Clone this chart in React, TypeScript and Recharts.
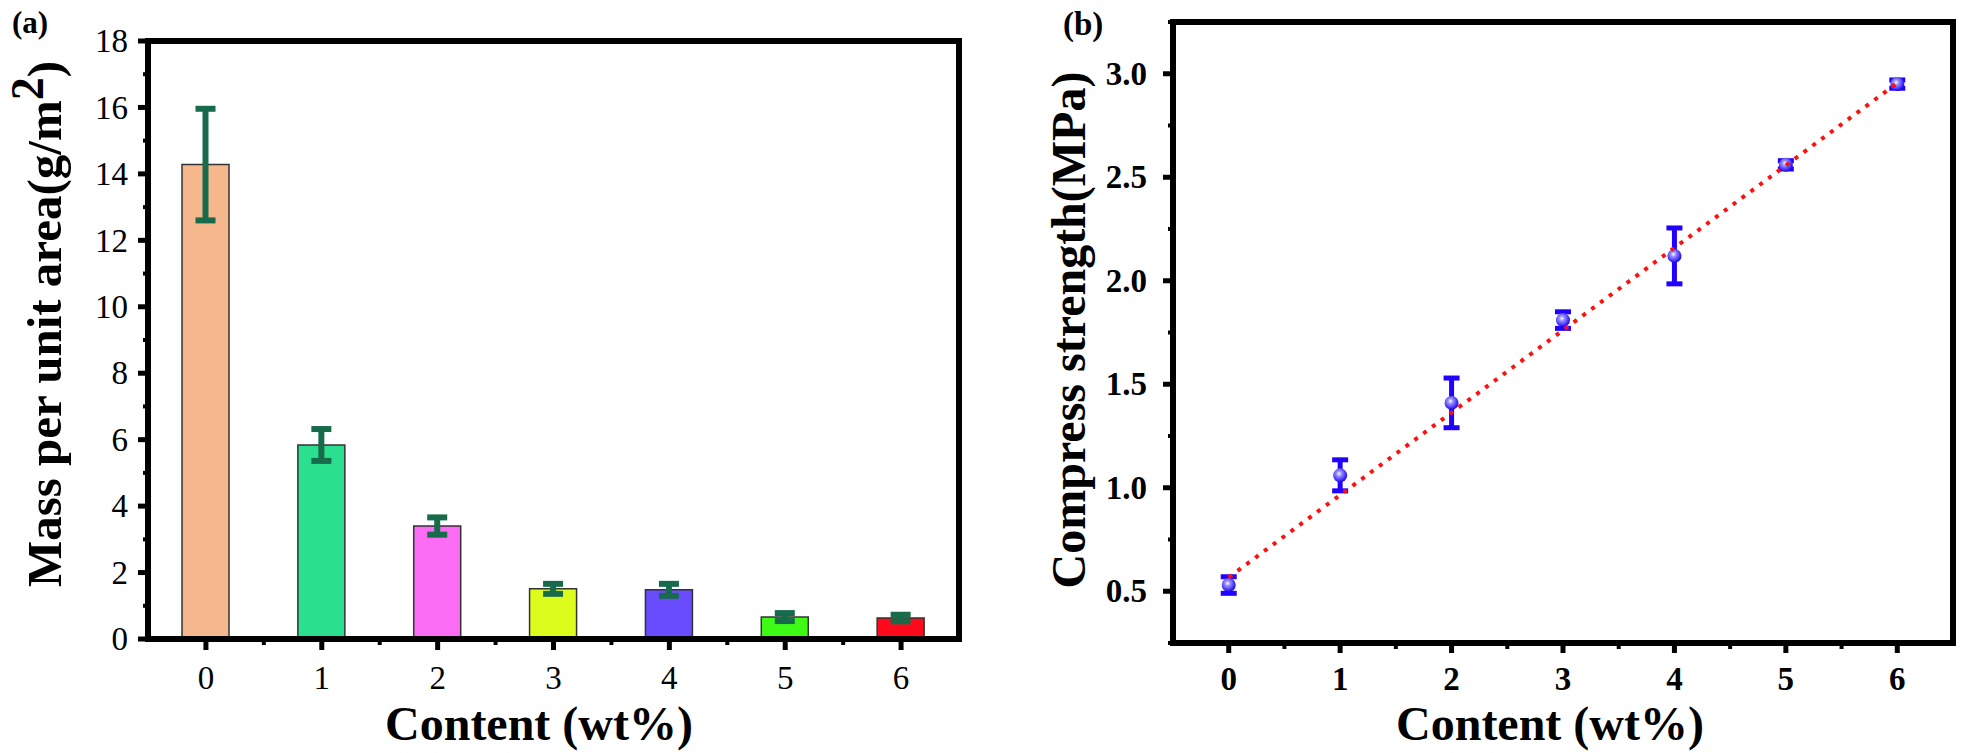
import React from 'react';
import {
    BarChart,
    Bar,
    Cell,
    ErrorBar,
    XAxis,
    YAxis,
    ReferenceArea,
    Label,
    ComposedChart,
    Scatter,
    Line
} from 'recharts';

const FONT = '"Liberation Serif", "Times New Roman", serif';

// (a) mass per unit area
const contents = [0, 1, 2, 3, 4, 5, 6];
const massValues = [14.28, 5.84, 3.4, 1.51, 1.48, 0.66, 0.63];
const massErrors = [1.68, 0.48, 0.26, 0.15, 0.18, 0.12, 0.1];
const barColors = ['#f7b78c', '#2adf8e', '#f96cf3', '#dcfd1c', '#6a4cff', '#3efb16', '#ff0a1c'];
const massTicks = [0, 2, 4, 6, 8, 10, 12, 14, 16, 18];
const massMinorTicks = [1, 3, 5, 7, 9, 11, 13, 15, 17];
const contentMinorTicks = [0.5, 1.5, 2.5, 3.5, 4.5, 5.5];

// (b) compress strength
const strengthValues = [0.53, 1.06, 1.41, 1.81, 2.12, 2.56, 2.95];
const strengthErrors = [0.04, 0.075, 0.12, 0.04, 0.135, 0.02, 0.02];
const fitContents = [0, 6];
const fitValues = [0.567, 2.955];
const strengthTicks = [0.5, 1.0, 1.5, 2.0, 2.5, 3.0];
const strengthMinorTicks = [0.25, 0.75, 1.25, 1.75, 2.25, 2.75, 3.25];

const massData = contents.map((c, i) => ({ content: c, mass: massValues[i], err: massErrors[i] }));
const strengthData = contents.map((c, i) => ({ content: c, strength: strengthValues[i], err: strengthErrors[i] }));
const fitData = fitContents.map((c, i) => ({ content: c, fit: fitValues[i] }));

const sortNum = (a: number, b: number) => a - b;

function makeYTick(major: number[], fmt: (v: number) => string, bold: boolean, gap: number) {
    return (props: any) => {
        const { x, y, payload } = props;
        const isMajor = major.includes(payload.value);
        return (
            <g>
                <line x1={x} x2={x - (isMajor ? 10 : 5)} y1={y} y2={y} stroke="#000" strokeWidth={isMajor ? 5 : 4} />
                {isMajor && (
                    <text x={x - gap} y={y} dy="0.34em" textAnchor="end" fontFamily={FONT}
                        fontWeight={bold ? 'bold' : 'normal'} fontSize={33} fill="#000">
                        {fmt(payload.value)}
                    </text>
                )}
            </g>
        );
    };
}

function makeXTick(major: number[], bold: boolean, gap: number, len: number) {
    return (props: any) => {
        const { x, y, payload } = props;
        const isMajor = major.includes(payload.value);
        return (
            <g>
                <line x1={x} x2={x} y1={y} y2={y + (isMajor ? len : 6)} stroke="#000" strokeWidth={isMajor ? 5 : 4} />
                {isMajor && (
                    <text x={x} y={y + gap} textAnchor="middle" fontFamily={FONT}
                        fontWeight={bold ? 'bold' : 'normal'} fontSize={33} fill="#000">
                        {payload.value}
                    </text>
                )}
            </g>
        );
    };
}

function Sphere(props: any) {
    const { cx, cy } = props;
    const id = `sph-${Math.round(cx)}`;
    return (
        <g>
            <defs>
                <radialGradient id={id} cx="42%" cy="38%" r="60%">
                    <stop offset="0%" stopColor="#ffffff" />
                    <stop offset="30%" stopColor="#9a90ff" />
                    <stop offset="100%" stopColor="#1e08f0" />
                </radialGradient>
            </defs>
            <circle cx={cx} cy={cy} r={7} fill={`url(#${id})`} />
        </g>
    );
}

const titleStyle = { fontFamily: FONT, fontWeight: 'bold' as const, fontSize: 48, fill: '#000' };

function MassChart() {
    return (
        <BarChart width={980} height={753} data={massData}
            margin={{ top: 41, right: 21, bottom: 34, left: 48 }}>
            <XAxis
                type="number"
                dataKey="content"
                domain={[-0.5, 6.5]}
                ticks={[...contents, ...contentMinorTicks].sort(sortNum)}
                interval={0}
                height={80}
                tickSize={0}
                tickMargin={0}
                tickLine={false}
                axisLine={{ stroke: '#000', strokeWidth: 6 }}
                tick={makeXTick(contents, false, 50, 11)}
            >
                <Label content={() => (
                    <text x={539} y={740} textAnchor="middle" {...titleStyle}>Content (wt%)</text>
                )} />
            </XAxis>
            <YAxis
                type="number"
                domain={[0, 18]}
                ticks={[...massTicks, ...massMinorTicks].sort(sortNum)}
                interval={0}
                width={100}
                tickSize={0}
                tickMargin={0}
                tickLine={false}
                axisLine={{ stroke: '#000', strokeWidth: 6 }}
                tick={makeYTick(massTicks, (v) => String(v), false, 20)}
            >
                <Label content={() => (
                    <text transform="translate(61, 324) rotate(-90)" textAnchor="middle" {...titleStyle} fontSize={49}>
                        Mass per unit area(g/m<tspan dy={-18} fontSize={46}>2</tspan><tspan dy={18}>)</tspan>
                    </text>
                )} />
            </YAxis>
            <Bar dataKey="mass" barSize={47} stroke="#333" strokeWidth={1.5} isAnimationActive={false}>
                {massData.map((d, i) => (
                    <Cell key={d.content} fill={barColors[i]} />
                ))}
                <ErrorBar dataKey="err" direction="y" width={10} strokeWidth={6} stroke="#176b4a" />
            </Bar>
            <ReferenceArea x1={-0.5} x2={6.5} y1={0} y2={18} fill="none" stroke="#000" strokeWidth={6}
                ifOverflow="visible" zIndex={550} />
        </BarChart>
    );
}

function StrengthChart() {
    return (
        <ComposedChart width={981} height={753} data={strengthData}
            margin={{ top: 22, right: 8, bottom: 30, left: 93 }}>
            <XAxis
                type="number"
                dataKey="content"
                domain={[-0.5, 6.5]}
                ticks={[...contents, ...contentMinorTicks].sort(sortNum)}
                interval={0}
                height={80}
                tickSize={0}
                tickMargin={0}
                tickLine={false}
                axisLine={{ stroke: '#000', strokeWidth: 6 }}
                tick={makeXTick(contents, true, 47, 10)}
            >
                <Label content={() => (
                    <text x={570} y={740} textAnchor="middle" {...titleStyle}>Content (wt%)</text>
                )} />
            </XAxis>
            <YAxis
                type="number"
                domain={[0.25, 3.25]}
                ticks={[...strengthTicks, ...strengthMinorTicks].sort(sortNum)}
                interval={0}
                width={100}
                tickSize={0}
                tickMargin={0}
                tickLine={false}
                axisLine={{ stroke: '#000', strokeWidth: 6 }}
                tick={makeYTick(strengthTicks, (v) => v.toFixed(1), true, 26)}
            >
                <Label content={() => (
                    <text transform="translate(105, 330) rotate(-90)" textAnchor="middle" {...titleStyle}>
                        Compress strength(MPa)
                    </text>
                )} />
            </YAxis>
            <ReferenceArea x1={-0.5} x2={6.5} y1={0.25} y2={3.25} fill="none" stroke="#000" strokeWidth={6}
                ifOverflow="visible" zIndex={550} />
            <Scatter dataKey="strength" shape={Sphere} isAnimationActive={false}>
                <ErrorBar dataKey="err" direction="y" width={8} strokeWidth={5} stroke="#2000ff" />
            </Scatter>
            <Line data={fitData} dataKey="fit" type="linear" stroke="#ff1010" strokeWidth={4}
                strokeDasharray="4 7" dot={false} activeDot={false} isAnimationActive={false} zIndex={700} />
        </ComposedChart>
    );
}

const panelLabel = (fs: number): React.CSSProperties => ({
    position: 'absolute',
    fontFamily: FONT,
    fontWeight: 'bold',
    fontSize: fs,
    lineHeight: `${fs}px`,
    color: '#000'
});

export default function App() {
    return (
        <div style={{ position: 'absolute', left: 0, top: 0, width: 1961, height: 753, background: '#fff' }}>
            <div style={{ position: 'absolute', left: 0, top: 0 }}>
                <MassChart />
            </div>
            <div style={{ position: 'absolute', left: 980, top: 0 }}>
                <StrengthChart />
            </div>
            <div style={{ ...panelLabel(31), left: 12, top: 7 }}>(a)</div>
            <div style={{ ...panelLabel(33), left: 1063, top: 8 }}>(b)</div>
        </div>
    );
}
